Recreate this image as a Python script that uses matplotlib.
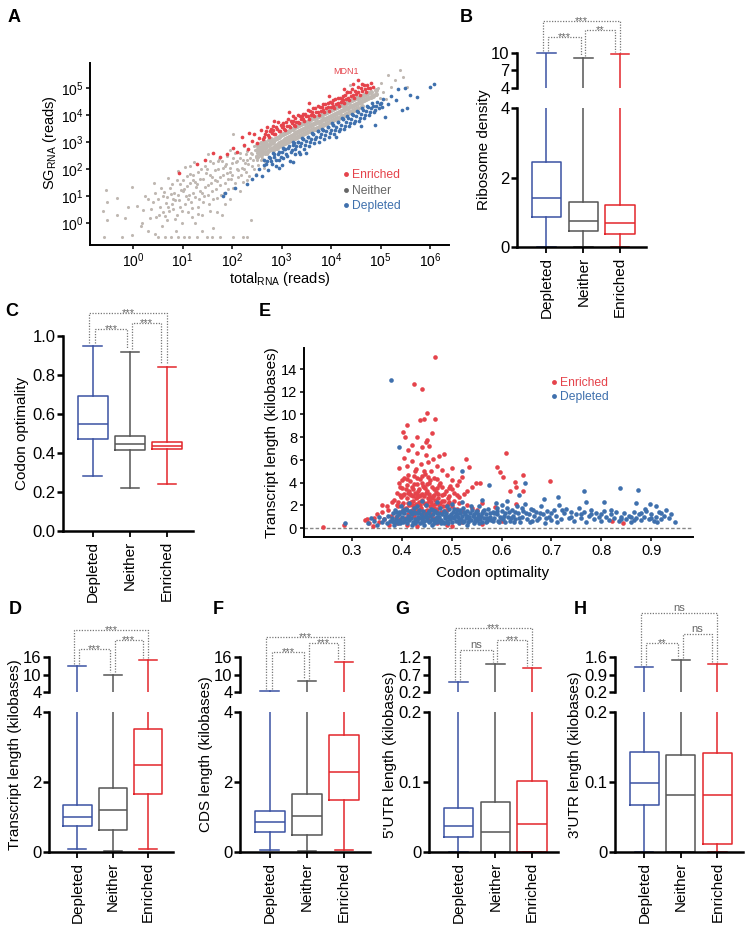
import matplotlib
matplotlib.use('Agg')
import matplotlib.pyplot as plt
import matplotlib.transforms as mtransforms
from matplotlib.lines import Line2D
from matplotlib.ticker import NullLocator

plt.rcParams['font.family'] = ['Liberation Sans', 'DejaVu Sans']
plt.rcParams['mathtext.fontset'] = 'custom'
plt.rcParams['mathtext.rm'] = 'Liberation Sans'
plt.rcParams['mathtext.it'] = 'Liberation Sans:italic'
plt.rcParams['mathtext.bf'] = 'Liberation Sans:bold'

# ======================= DATA =======================
groups = ['Depleted', 'Neither', 'Enriched']
# box stats per group: (whisker low, Q1, median, Q3, whisker high)
ribosome_density = [(0.0, 0.85, 1.40, 2.45, 10.0), (0.0, 0.45, 0.75, 1.30, 9.2), (0.0, 0.37, 0.70, 1.20, 9.8)]
codon_optimality = [(0.28, 0.47, 0.55, 0.69, 0.95), (0.22, 0.413, 0.445, 0.487, 0.92), (0.24, 0.42, 0.435, 0.455, 0.84)]
transcript_kb = [(0.10, 0.75, 1.00, 1.35, 12.8), (0.03, 0.62, 1.20, 1.83, 10.0), (0.08, 1.65, 2.48, 3.52, 14.9)]
cds_kb = [(0.07, 0.58, 0.85, 1.17, 4.2), (0.03, 0.48, 1.02, 1.65, 7.7), (0.07, 1.48, 2.28, 3.33, 14.3)]
utr5_kb = [(0.0, 0.021, 0.037, 0.063, 0.49), (0.0, 0.0, 0.029, 0.072, 1.0), (0.0, 0.0, 0.040, 0.102, 0.88)]
utr3_kb = [(0.0, 0.067, 0.099, 0.143, 1.19), (0.0, 0.0, 0.081, 0.138, 1.48), (0.0, 0.012, 0.082, 0.141, 1.31)]
# significance: (Depleted-Enriched, Depleted-Neither, Neither-Enriched)
sig_B = ['***', '***', '**']
sig_C = ['***', '***', '***']
sig_D = ['***', '***', '***']
sig_F = ['***', '***', '***']
sig_G = ['***', 'ns', '***']
sig_H = ['ns', '**', 'ns']

# Panel A: (log10 total reads, log10 SG reads)
neither_sparse = [
(-0.55,1.22),(-0.53,0.78),(-0.60,0.45),(-0.53,0.10),(-0.33,0.93),(-0.33,0.30),(-0.22,-0.52),(-0.02,1.33),(-0.02,-0.45),
(-0.16,0.18),(-0.58,-0.52),(0.08,0.62),(0.18,0.02),(0.24,1.02),(0.31,-0.28),(0.36,0.52),(0.42,1.48),(0.46,0.21),(0.51,0.88),
(0.50,-0.52),(0.56,1.31),(0.61,0.42),(0.59,-0.12),(0.66,0.76),(0.71,1.68),(0.69,0.12),(0.76,1.08),(0.77,-0.52),(0.81,0.52),
(0.79,1.46),(0.86,-0.31),(0.84,0.86),(0.91,1.92),(0.89,0.31),(0.96,1.22),(0.94,0.61),(1.01,1.58),(0.99,0.02),(1.02,-0.52),
(1.06,1.01),(1.04,2.08),(1.11,0.42),(1.09,1.36),(1.12,-0.52),(1.16,0.79),(1.14,1.82),(1.21,1.12),(1.19,0.22),(1.26,1.52),
(1.24,2.28),(1.31,0.61),(1.29,-0.52),(1.32,1.91),(1.36,1.18),(1.34,0.88),(1.41,1.62),(1.39,0.31),(1.46,2.12),(1.44,1.02),
(1.51,1.41),(1.49,-0.52),(1.56,1.79),(1.54,0.71),(1.61,2.21),(1.59,1.18),(1.62,-0.18),(1.66,1.61),(1.71,2.02),(1.69,0.92),
(1.76,1.42),(1.74,2.38),(1.81,1.79),(1.79,0.31),(1.86,2.11),(1.84,1.12),(1.91,1.62),(1.89,2.48),(1.96,1.88),(2.01,1.31),
(1.99,2.22),(2.02,-0.52),(2.06,2.58),(2.11,1.72),(2.09,2.02),(2.16,2.41),(2.21,1.52),(2.22,-0.52),(2.26,2.21),(2.31,2.68),
(2.29,1.91),(2.36,2.42),(2.41,2.12),(2.39,0.12),(2.46,2.72),(2.51,2.32),(2.49,1.82),(2.56,2.62),(2.02,3.30),(1.52,2.55),
(0.30,0.90),(0.15,-0.10),(1.95,0.90),(2.15,1.20),(2.30,1.60),(1.70,0.40),(1.25,0.00),(0.60,1.00),(0.90,-0.52),(1.40,-0.30),
(2.45,2.00),(2.60,2.40),(2.65,2.05),
(0.35,0.2),(0.4,0.8),(0.45,1.1),(0.52,0.3),(0.55,0.6),(0.62,1.15),(0.65,0.25),(0.68,0.95),(0.72,0.45),(0.74,1.3),(0.78,0.7),
(0.82,1.1),(0.85,0.15),(0.88,1.6),(0.92,0.85),(0.95,1.45),(0.98,0.45),(1.02,1.25),(1.05,0.7),(1.08,1.75),(1.12,1.05),
(1.15,1.5),(1.18,0.55),(1.22,1.8),(1.25,0.95),(1.28,1.35),(1.32,0.35),(1.35,1.65),(1.38,2.0),(1.42,0.8),(1.45,1.35),
(1.48,1.85),(1.52,1.05),(1.55,2.3),(1.58,1.5),(1.62,0.9),(1.65,1.95),(1.68,1.25),(1.72,2.3),(1.75,1.7),(1.78,1.05),
(1.82,2.05),(1.85,1.5),(1.88,2.2),(1.92,1.25),(1.95,2.05),(1.98,1.65),(2.02,2.4),(2.05,1.5),(2.08,2.25),(2.12,1.95),
(2.15,2.6),(2.18,1.8),(2.22,2.35),(2.25,2.0),(2.28,2.55),(2.32,2.2),(2.35,1.75),(2.38,2.6),(2.42,2.35),(2.44,2.85),
(2.48,2.5),(2.52,2.15),(2.55,2.8),(2.58,2.35),(2.62,2.95),(2.66,2.3),(2.7,2.55),(1.6,1.7),(1.5,2.0),(1.4,1.1),(1.3,1.45),
(1.2,1.6),(1.1,0.9),(1.0,1.2),(0.9,1.05),(0.8,0.9),(0.7,0.6),(1.7,1.55),(1.8,2.3),(1.9,1.85),(2.0,1.8),(2.1,2.3),
(2.2,2.05),(2.3,2.35),(2.4,2.55),(2.5,2.6),(2.6,2.7),(1.85,0.7),(1.55,0.45),(1.95,2.7),(2.25,2.85),(1.15,2.1),(0.45,-0.4),
(0.2,0.5),(-0.1,0.6),(1.6,-0.52),(1.75,-0.52),(0.65,-0.52),(2.3,-0.52),
(4.38,5.10),(5.39,5.67),(5.15,5.48),(5.29,5.30),(5.53,5.04),(4.95,5.00),(5.05,4.85),(5.20,5.05),(4.90,4.75),
(5.00,5.20),(5.45,5.40),(5.10,4.60),(4.98,4.65),
]
neither_core = [
(2.50,2.45),(2.50,2.70),(2.50,2.88),(2.54,2.60),(2.54,2.82),(2.58,2.52),(2.58,2.75),(2.58,2.95),
(2.63,2.62),(2.63,2.85),(2.63,2.98),(2.67,2.58),(2.67,2.80),(2.67,3.02),(2.71,2.65),(2.71,2.90),
(2.75,2.70),(2.75,2.88),(2.75,3.08),(2.79,2.74),(2.79,2.95),(2.79,3.12),(2.83,2.80),(2.83,3.02),(2.83,2.70),
(2.87,2.85),(2.87,3.10),(2.87,2.78),(2.91,2.90),(2.91,3.15),(2.91,2.80),(2.95,2.95),(2.95,3.18),(2.95,2.85),
(2.99,3.00),(2.99,3.25),(2.99,2.88),(3.03,3.05),(3.03,3.30),(3.03,2.92),(3.07,3.10),(3.07,3.35),(3.07,2.96),
(3.11,3.15),(3.11,3.38),(3.11,3.00),(3.15,3.20),(3.15,3.42),(3.15,3.05),(3.19,3.22),(3.19,3.48),(3.19,3.08),
(3.23,3.28),(3.23,3.50),(3.23,3.10),(3.27,3.32),(3.27,3.55),(3.27,3.15),(3.31,3.36),(3.31,3.58),(3.31,3.18),
(3.35,3.40),(3.35,3.62),(3.35,3.22),(3.39,3.45),(3.39,3.66),(3.39,3.25),(3.43,3.48),(3.43,3.70),(3.43,3.30),
(3.47,3.52),(3.47,3.72),(3.47,3.33),(3.51,3.55),(3.51,3.76),(3.51,3.36),(3.55,3.58),(3.55,3.80),(3.55,3.40),
(3.59,3.62),(3.59,3.84),(3.59,3.44),(3.63,3.66),(3.63,3.88),(3.63,3.47),(3.67,3.70),(3.67,3.90),(3.67,3.50),
(3.71,3.73),(3.71,3.94),(3.71,3.53),(3.75,3.76),(3.75,3.98),(3.75,3.57),(3.79,3.80),(3.79,4.02),(3.79,3.60),
(3.83,3.84),(3.83,4.05),(3.83,3.64),(3.87,3.87),(3.87,4.08),(3.87,3.67),(3.91,3.90),(3.91,4.12),(3.91,3.70),
(3.95,3.94),(3.95,4.16),(3.95,3.74),(3.99,3.97),(3.99,4.19),(3.99,3.77),(4.03,4.00),(4.03,4.22),(4.03,3.81),
(4.07,4.04),(4.07,4.26),(4.07,3.84),(4.11,4.07),(4.11,4.29),(4.11,3.88),(4.15,4.11),(4.15,4.32),(4.15,3.91),
(4.19,4.14),(4.19,4.36),(4.19,3.95),(4.23,4.18),(4.23,4.39),(4.23,3.98),(4.27,4.21),(4.27,4.42),(4.27,4.02),
(4.31,4.25),(4.31,4.46),(4.31,4.05),(4.35,4.28),(4.35,4.49),(4.35,4.09),(4.39,4.32),(4.39,4.52),(4.39,4.12),
(4.43,4.35),(4.43,4.56),(4.43,4.16),(4.47,4.39),(4.47,4.59),(4.47,4.20),(4.51,4.42),(4.51,4.62),(4.51,4.24),
(4.55,4.46),(4.55,4.65),(4.55,4.27),(4.59,4.49),(4.59,4.68),(4.63,4.53),(4.63,4.72),(4.63,4.35),
(4.67,4.56),(4.67,4.75),(4.71,4.60),(4.71,4.79),(4.75,4.63),(4.75,4.82),(4.80,4.68),(4.80,4.85),(4.85,4.72),
(4.90,4.77),(4.90,4.92),
]
enriched_pts = [
(0.92,1.85),(1.30,2.20),(1.45,2.35),(1.75,2.45),(1.62,2.60),(1.90,2.55),(2.02,2.80),(2.10,2.65),(2.20,3.20),(2.25,2.90),
(2.32,2.75),(2.40,3.05),(2.45,3.30),(2.50,2.95),(2.55,3.15),(2.58,3.45),(2.62,3.10),(2.66,3.30),(2.70,3.55),(2.72,3.25),
(2.76,3.40),(2.80,3.35),(2.83,3.60),(2.86,3.30),(2.90,3.50),(2.93,3.75),(2.96,3.40),(3.00,3.55),(3.03,3.70),(3.06,3.45),
(3.10,3.60),(3.13,3.85),(3.16,3.55),(3.20,3.70),(3.23,3.95),(3.26,3.60),(3.30,3.75),(3.33,4.00),(3.36,3.70),(3.40,3.85),
(3.43,4.05),(3.46,3.80),(3.50,3.95),(3.53,4.20),(3.56,3.85),(3.60,4.00),(3.63,4.25),(3.66,3.95),(3.70,4.10),(3.73,4.35),
(3.76,4.00),(3.80,4.15),(3.83,4.40),(3.86,4.10),(3.90,4.25),(3.93,4.45),(3.96,4.15),(4.00,4.30),(4.03,4.55),(4.06,4.25),
(4.10,4.40),(4.13,4.65),(4.16,4.35),(4.20,4.50),(4.23,4.70),(4.26,4.45),(4.30,4.60),(4.33,4.85),(4.36,4.55),(4.40,4.70),
(4.43,4.95),(4.46,4.65),(4.50,4.80),(4.55,5.05),(4.58,4.75),(4.62,4.90),(4.66,5.10),(4.70,4.85),(4.75,5.00),(4.80,5.20),
(4.32,4.85),(4.55,5.30),(4.79,5.00),(4.62,5.15),(4.85,5.05),(2.35,3.35),(2.85,3.80),(3.15,4.10),(3.55,4.45),(3.95,4.70),
(4.25,4.95),(4.45,5.15),
(2.65,3.2),(2.68,3.4),(2.74,3.2),(2.78,3.5),(2.84,3.3),(2.88,3.55),(2.82,3.45),(2.94,3.4),(2.98,3.65),(3.04,3.5),
(3.08,3.75),(3.02,3.6),(3.14,3.6),(3.18,3.8),(3.24,3.65),(3.28,3.9),(3.22,3.8),(3.34,3.75),(3.38,3.95),(3.44,3.85),
(3.48,4.05),(3.42,3.95),(3.54,3.95),(3.58,4.15),(3.64,4.0),(3.68,4.25),(3.62,4.1),(3.74,4.1),(3.78,4.3),(3.84,4.2),
(3.88,4.4),(3.82,4.3),(3.94,4.3),(3.98,4.5),(4.04,4.35),(4.08,4.6),(4.02,4.45),(4.14,4.45),(4.18,4.65),(4.24,4.55),
(4.28,4.75),(4.22,4.6),(4.34,4.65),(4.38,4.85),(4.44,4.75),(4.48,4.9),(4.54,4.85),(4.6,5.0),(4.68,4.95),(4.72,5.1),
]
depleted_pts = [
(1.82,1.00),(1.85,1.12),(2.05,1.30),(2.30,1.45),(2.40,1.62),(2.48,1.80),(2.55,2.00),(2.60,1.75),(2.65,2.15),(2.70,2.30),
(2.72,1.95),(2.76,2.40),(2.80,2.20),(2.84,2.45),(2.88,2.10),(2.92,2.55),(2.95,2.35),(3.00,2.65),(3.03,2.40),(3.06,2.75),
(3.10,2.50),(3.13,2.80),(3.16,2.30),(3.20,2.70),(3.23,2.90),(3.26,2.55),(3.30,2.85),(3.33,3.00),(3.36,2.65),(3.40,2.95),
(3.43,3.10),(3.46,2.75),(3.50,3.05),(3.53,3.20),(3.56,2.85),(3.60,3.10),(3.63,3.30),(3.66,2.95),(3.70,3.20),(3.73,3.40),
(3.76,3.00),(3.80,3.30),(3.83,3.45),(3.86,3.10),(3.90,3.40),(3.93,3.55),(3.96,3.20),(4.00,3.45),(4.03,3.65),(4.06,3.30),
(4.10,3.55),(4.13,3.75),(4.16,3.40),(4.20,3.65),(4.23,3.85),(4.26,3.50),(4.30,3.75),(4.33,3.95),(4.36,3.60),(4.40,3.85),
(4.43,4.05),(4.46,3.70),(4.50,3.95),(4.53,4.15),(4.56,3.80),(4.60,4.05),(4.63,4.25),(4.66,3.90),(4.70,4.15),(4.73,4.35),
(4.76,4.00),(4.80,4.25),(4.83,4.45),(4.86,4.10),(4.90,4.35),(4.93,4.50),(4.97,4.25),(5.00,4.45),(5.05,4.60),(5.09,3.93),
(4.89,3.63),(5.15,4.40),(5.20,4.70),(5.30,4.55),(5.43,4.19),(5.53,4.26),(5.60,4.75),(5.73,4.67),(5.35,4.95),(5.50,5.00),
(6.00,5.05),(6.08,5.15),(3.23,2.26),(3.00,2.15),(2.95,2.05),(3.50,2.60),(4.10,3.20),(4.60,3.60),(3.38,2.55),
(2.64,2.35),(2.68,2.2),(2.74,2.45),(2.78,2.3),(2.84,2.55),(2.88,2.35),(2.82,2.6),(2.94,2.65),(2.98,2.45),(3.04,2.75),
(3.08,2.55),(3.02,2.8),(3.14,2.85),(3.18,2.65),(3.24,2.95),(3.28,2.75),(3.22,3.0),(3.34,3.0),(3.38,2.85),(3.44,3.1),
(3.48,2.9),(3.42,3.15),(3.54,3.2),(3.58,3.0),(3.64,3.3),(3.68,3.1),(3.62,3.35),(3.74,3.4),(3.78,3.2),(3.84,3.45),
(3.88,3.25),(3.82,3.5),(3.94,3.55),(3.98,3.35),(4.04,3.65),(4.08,3.45),(4.02,3.7),(4.14,3.75),(4.18,3.5),(4.24,3.85),
(4.28,3.6),(4.22,3.9),(4.34,3.9),(4.38,3.7),(4.44,4.0),(4.48,3.8),(4.54,4.1),(4.58,3.9),(4.64,4.2),(4.68,4.0),
(4.74,4.3),(4.78,4.1),(4.84,4.35),(4.88,4.2),(4.98,4.4),(5.02,4.3),
]

# Panel E: (codon optimality, transcript length kb)
enriched_len = [
(0.467,15.08),(0.425,12.65),(0.441,12.27),(0.451,10.1),(0.437,9.5),(0.445,9.57),(0.467,9.62),(0.411,9.07),(0.402,8.48),
(0.407,7.98),(0.431,8.04),(0.451,7.75),(0.449,7.6),(0.46,8.34),(0.413,6.87),(0.485,6.5),(0.529,6.05),(0.534,5.4),(0.59,5.4),
(0.596,4.96),(0.549,4.0),(0.557,4.0),(0.608,6.63),(0.602,4.52),(0.642,4.64),(0.627,4.02),(0.628,3.58),(0.643,3.28),
(0.616,3.26),(0.697,4.14),(0.586,1.88),(0.629,2.1),(0.821,0.62),(0.843,0.47),(0.242,0.12),(0.283,0.26),(0.326,0.7),
(0.42,7.3),(0.44,7.1),(0.455,7.2),(0.43,6.6),(0.448,6.4),(0.405,6.2),(0.42,5.9),(0.462,6.1),(0.475,6.3),(0.438,5.6),
(0.452,5.8),(0.395,5.3),(0.41,5.5),(0.47,5.5),(0.48,5.1),(0.428,5.2),(0.445,5.0),(0.5,5.3),(0.49,4.7),(0.52,4.5),
(0.515,4.1),(0.54,3.6),(0.53,3.3),(0.51,3.8),(0.5,4.2),(0.495,3.5),
(0.385,2.5),(0.39,3.1),(0.392,1.9),(0.395,4.0),(0.398,2.7),(0.40,3.5),(0.40,1.5),(0.402,2.2),(0.405,4.4),(0.405,3.0),
(0.408,1.8),(0.41,2.6),(0.41,3.8),(0.412,1.2),(0.414,3.3),(0.415,2.0),(0.416,4.1),(0.418,2.9),(0.42,1.6),(0.42,3.6),
(0.422,2.4),(0.424,4.6),(0.425,1.1),(0.426,3.1),(0.428,2.1),(0.43,3.9),(0.43,2.7),(0.432,1.4),(0.434,3.4),(0.435,2.3),
(0.436,4.3),(0.438,1.8),(0.44,3.0),(0.44,2.5),(0.442,3.7),(0.444,1.3),(0.445,2.8),(0.446,4.8),(0.448,2.0),(0.45,3.3),
(0.45,1.6),(0.452,2.6),(0.454,4.0),(0.455,3.0),(0.456,1.9),(0.458,2.3),(0.46,3.6),(0.46,1.2),(0.462,2.8),(0.464,4.4),
(0.466,2.1),(0.468,3.2),(0.47,1.7),(0.472,2.6),(0.474,3.8),(0.476,2.2),(0.478,1.4),(0.48,2.9),(0.482,1.9),(0.485,2.4),
(0.488,3.3),(0.49,1.6),(0.492,2.1),(0.495,2.8),(0.5,1.9),(0.505,2.4),(0.51,1.7),(0.515,2.2),(0.52,1.5),(0.53,2.0),
(0.54,1.8),(0.55,1.6),(0.56,2.2),(0.388,1.0),(0.396,0.8),(0.403,2.9),(0.407,0.9),(0.417,1.3),(0.423,3.4),(0.433,0.9),
(0.437,2.0),(0.443,1.0),(0.447,3.5),(0.453,0.8),(0.457,4.2),(0.463,0.9),(0.467,2.5),(0.473,1.0),(0.48,3.6),(0.397,3.6),
(0.413,4.7),(0.427,5.0),(0.44,4.6),(0.458,5.0),(0.47,4.3),(0.4,2.0),(0.418,2.3),(0.428,1.7),(0.438,2.9),(0.448,1.5),
(0.455,2.5),(0.465,1.8),(0.43,3.0),(0.422,2.8),(0.412,3.1),(0.45,2.2),(0.46,2.6),
(0.335,0.4),(0.345,0.9),(0.35,1.2),(0.355,0.5),(0.36,1.4),(0.365,0.8),(0.37,1.9),(0.375,0.3),(0.378,1.1),(0.38,2.3),
(0.383,0.6),(0.39,0.4),(0.36,2.0),(0.372,1.6),(0.342,0.2),(0.33,0.8),
(0.41,0.3),(0.43,0.2),(0.47,0.4),(0.49,0.3),(0.52,0.5),(0.56,0.35),(0.6,0.6),(0.5,0.2),
(0.392,2.3),(0.396,2.9),(0.40,4.2),(0.404,1.7),(0.408,3.4),(0.412,2.2),(0.416,3.0),(0.42,2.0),(0.424,3.9),(0.428,2.6),
(0.432,3.3),(0.436,1.6),(0.44,4.0),(0.444,2.2),(0.448,3.1),(0.452,4.5),(0.456,2.7),(0.46,2.0),(0.464,3.4),(0.468,1.5),
(0.472,3.0),(0.476,4.0),(0.48,2.4),(0.484,3.0),(0.488,1.9),(0.492,2.6),(0.496,3.7),(0.39,2.0),(0.43,4.4),(0.45,3.9),
(0.47,3.5),(0.41,4.3),(0.425,1.9),(0.435,2.8),(0.445,3.6),(0.455,1.4),(0.465,2.9),(0.475,2.0),(0.485,1.5),(0.495,2.3),
(0.505,3.1),(0.515,2.7),(0.525,3.0),(0.51,2.9),(0.5,3.4),
]
depleted_len = [
(0.378,13.0),(0.394,7.16),(0.52,5.0),(0.575,3.79),(0.646,3.93),(0.635,2.9),(0.766,3.29),(0.838,3.52),(0.874,3.31),
(0.713,2.7),(0.686,2.58),(0.769,2.32),(0.805,2.32),(0.87,2.17),(0.898,2.08),(0.91,1.94),(0.947,0.56),(0.285,0.47),
(0.332,0.4),(0.338,0.9),(0.345,0.6),(0.35,0.3),(0.355,1.0),(0.36,0.5),(0.365,0.8),(0.37,0.4),(0.373,1.1),(0.377,0.6),
(0.38,0.9),(0.382,1.3),(0.384,0.5),(0.386,1.6),(0.388,0.8),(0.39,1.1),(0.392,0.4),(0.394,1.4),(0.396,0.7),(0.398,1.9),
(0.40,1.0),(0.402,0.5),(0.404,1.3),(0.406,0.8),(0.408,1.7),(0.41,0.4),(0.412,1.1),(0.414,0.7),(0.416,1.5),(0.418,0.9),
(0.42,1.2),(0.422,0.5),(0.424,1.8),(0.426,0.8),(0.428,1.3),(0.43,0.6),(0.432,1.0),(0.434,1.6),(0.436,0.4),(0.438,1.2),
(0.44,0.8),(0.442,1.5),(0.444,0.6),(0.446,1.0),(0.448,2.0),(0.45,0.7),(0.452,1.3),(0.454,0.5),(0.456,1.1),(0.458,1.7),
(0.46,0.8),(0.462,1.2),(0.464,0.4),(0.466,1.5),(0.468,0.9),(0.47,1.3),(0.472,0.6),(0.474,1.0),(0.476,1.8),(0.478,0.7),
(0.48,1.2),(0.482,0.5),(0.484,1.5),(0.486,0.9),(0.488,1.3),(0.49,0.6),(0.492,1.0),(0.494,1.7),(0.496,0.8),(0.498,1.2),
(0.5,0.5),(0.502,1.4),(0.504,0.9),(0.506,1.1),(0.508,0.6),(0.51,1.6),(0.512,1.0),(0.514,0.4),(0.516,1.3),(0.518,0.8),
(0.52,1.1),(0.522,1.8),(0.524,0.6),(0.526,1.2),(0.528,0.9),(0.53,1.5),(0.532,0.5),(0.534,1.0),(0.536,1.3),(0.538,0.7),
(0.54,1.6),(0.542,1.1),(0.544,0.4),(0.546,0.9),(0.548,1.4),(0.55,0.7),(0.552,1.2),(0.554,1.9),(0.556,0.8),(0.558,1.1),
(0.56,0.5),(0.562,1.5),(0.565,0.9),(0.568,1.2),(0.57,0.6),(0.573,1.7),(0.576,1.0),(0.579,0.7),(0.582,1.4),(0.585,0.9),
(0.588,2.2),(0.59,1.2),(0.593,0.6),(0.596,1.0),(0.6,1.5),(0.603,0.8),(0.606,1.3),(0.61,2.4),(0.613,1.0),(0.616,0.6),
(0.62,1.6),(0.623,1.1),(0.626,0.8),(0.63,1.9),(0.633,1.3),(0.636,0.5),(0.64,1.0),(0.643,1.5),(0.646,2.1),(0.65,0.8),
(0.654,1.2),(0.658,1.7),(0.662,0.6),(0.666,1.1),(0.67,1.4),(0.675,0.9),(0.68,1.9),(0.684,1.2),(0.688,0.4),(0.692,1.5),
(0.696,1.0),(0.70,0.7),(0.705,1.6),(0.71,1.1),(0.715,2.0),(0.72,0.8),(0.725,1.3),(0.73,1.7),(0.735,0.9),(0.74,1.4),
(0.745,0.6),(0.75,1.2),(0.755,1.8),(0.76,0.9),(0.765,1.4),(0.77,0.5),(0.775,1.1),(0.78,1.6),(0.785,0.8),(0.79,1.3),
(0.795,1.0),(0.80,0.6),(0.805,1.5),(0.81,1.0),(0.815,0.7),(0.82,1.2),(0.825,0.9),(0.83,1.4),(0.835,0.6),(0.84,1.0),
(0.845,1.3),(0.85,0.8),(0.855,1.1),(0.86,0.5),(0.865,1.4),(0.87,0.9),(0.875,1.2),(0.88,0.7),(0.885,1.0),(0.89,1.5),
(0.895,0.8),(0.90,1.2),(0.905,0.6),(0.91,1.0),(0.915,1.4),(0.92,0.8),(0.925,1.1),(0.93,1.6),(0.935,0.9),(0.94,1.2),
(0.52,2.3),(0.56,2.5),(0.6,2.0),(0.5,2.1),(0.47,2.3),(0.44,2.4),(0.415,2.2),
(0.385,0.3),(0.395,1.2),(0.405,0.6),(0.415,1.0),(0.425,1.4),(0.435,0.9),(0.445,0.3),(0.455,1.5),(0.465,0.7),(0.475,1.3),
(0.485,0.4),(0.495,1.1),(0.505,1.7),(0.515,0.7),(0.525,1.4),(0.535,0.8),(0.545,1.2),(0.555,0.4),(0.565,1.6),(0.575,0.8),
(0.585,1.3),(0.595,0.5),(0.605,1.1),(0.615,1.4),(0.625,0.5),(0.39,0.6),(0.41,1.6),(0.43,1.9),(0.45,1.0),(0.47,0.5),
(0.49,1.9),(0.51,1.2),(0.53,0.3),(0.55,1.5),(0.57,0.9),(0.59,1.8),(0.4,1.4),(0.42,0.3),(0.44,1.1),(0.46,0.3),
(0.381,0.6),(0.389,1.4),(0.397,0.4),(0.403,1.6),(0.411,0.8),(0.419,1.4),(0.427,0.4),(0.433,1.3),(0.441,0.5),(0.449,1.2),
(0.457,0.6),(0.463,1.6),(0.471,1.0),(0.479,0.4),(0.487,1.1),(0.493,0.4),(0.501,1.0),(0.509,1.3),(0.517,1.6),(0.523,0.5),
(0.531,1.1),(0.539,1.9),(0.547,0.6),(0.553,1.0),(0.561,1.3),(0.569,0.5),(0.577,1.3),(0.583,0.6),(0.591,1.5),(0.599,0.9),
(0.607,0.5),(0.611,1.8),(0.619,0.9),(0.627,1.4),(0.634,0.9),(0.641,1.8),(0.648,1.3),(0.656,0.5),(0.664,1.6),(0.672,0.7),
(0.678,1.3),(0.69,0.9),(0.7,1.3),(0.712,0.5),(0.722,1.6),(0.74,1.0),(0.76,1.2),(0.78,1.2),(0.8,1.2),(0.82,1.6),
(0.84,0.8),(0.86,1.0),(0.88,1.3),(0.9,0.9),(0.92,1.3),(0.888,1.7),(0.912,0.5),(0.865,0.7),
]

# ======================= STYLE =======================
BOX_COLORS = ['#3b52a3', '#555555', '#e3262b']
PT_RED = '#e5434b'
PT_GREY = '#bfb8b2'
PT_BLUE = '#3f70ad'

W, H = 752, 930
fig = plt.figure(figsize=(W / 100, H / 100), dpi=100)


def add_ax(l, t, r, b):
    ax = fig.add_axes([l / W, 1 - b / H, (r - l) / W, (b - t) / H])
    ax.patch.set_alpha(0)
    return ax


def ftext(x, y, s, **kw):
    fig.text(x / W, 1 - y / H, s, **kw)


XLIM = (0.2, 3.7)


def draw_boxes(ax, stats, upper=False):
    bst = [dict(label=g, whislo=s[0], q1=s[1], med=s[2], q3=s[3], whishi=s[4], fliers=[])
           for g, s in zip(groups, stats)]
    art = ax.bxp(bst, positions=[1, 2, 3], widths=0.8, capwidths=0.5,
                 showfliers=False, manage_ticks=False)
    for i, c in enumerate(BOX_COLORS):
        for a in [art['boxes'][i], art['medians'][i], art['whiskers'][2 * i],
                  art['whiskers'][2 * i + 1], art['caps'][2 * i], art['caps'][2 * i + 1]]:
            a.set_color(c)
            a.set_linewidth(1.1)
        if upper:
            art['caps'][2 * i].set_visible(False)
            art['caps'][2 * i + 1].set_clip_on(False)
    ax.set_xlim(*XLIM)
    return art


def style_lower(ax, ylim, yticks, ylabels):
    ax.set_ylim(*ylim)
    ax.set_yticks(yticks)
    ax.set_yticklabels(ylabels)
    ax.set_xticks([1, 2, 3])
    ax.set_xticklabels(groups, rotation=90)
    for s in ('top', 'right'):
        ax.spines[s].set_visible(False)
    for s in ('left', 'bottom'):
        ax.spines[s].set_linewidth(1.8)
    ax.tick_params(axis='y', direction='out', length=4.5, width=1.8, labelsize=12, pad=0.8)
    ax.tick_params(axis='x', direction='out', length=4, width=1.3, labelsize=11, pad=3)


def style_upper(ax, ylim, yticks, ylabels):
    ax.set_ylim(*ylim)
    ax.set_yticks(yticks)
    ax.set_yticklabels(ylabels)
    ax.set_xticks([])
    for s in ('top', 'right', 'bottom'):
        ax.spines[s].set_visible(False)
    ax.spines['left'].set_linewidth(1.8)
    ax.tick_params(axis='y', direction='out', length=4.5, width=1.8, labelsize=12, pad=0.8)


def brackets(ax, stats, lo, hi, levels, labels, gap):
    tr = mtransforms.blended_transform_factory(ax.transData, ax.transAxes)
    pairs = [(0, 2, -0.1, 0.0), (0, 1, 0.05, -0.07), (1, 2, 0.05, -0.15)]
    for (i, j, di, dj), lev, lab in zip(pairs, levels, labels):
        x1 = i + 1 + di
        x2 = j + 1 + dj
        y1 = (stats[i][4] - lo) / (hi - lo) + gap
        y2 = (stats[j][4] - lo) / (hi - lo) + gap
        ax.plot([x1, x1, x2, x2], [y1, lev, lev, y2], transform=tr, color='#777777',
                lw=0.9, ls=(0, (1, 1.2)), clip_on=False)
        dy = -2.5 if '*' in lab else 1.5
        ttr = mtransforms.offset_copy(tr, fig=fig, y=dy, units='points')
        ax.text((x1 + x2) / 2, lev, lab, transform=ttr, ha='center', va='baseline',
                fontsize=8, color='#666666')


def broken_panel(l, r, stats, lo_lim, lo_ticks, lo_labels, up_lim, up_ticks, up_labels,
                 levels, sig, ylabel, ylab_x, t_up=657, b_up=692, t_lo=712, b_lo=852):
    ax_lo = add_ax(l, t_lo, r, b_lo)
    draw_boxes(ax_lo, stats)
    style_lower(ax_lo, lo_lim, lo_ticks, lo_labels)
    ax_up = add_ax(l, t_up, r, b_up)
    draw_boxes(ax_up, stats, upper=True)
    style_upper(ax_up, up_lim, up_ticks, up_labels)
    brackets(ax_up, stats, up_lim[0], up_lim[1], levels, sig, 0.06)
    ftext(ylab_x, (t_up + b_lo) / 2, ylabel, rotation=90, ha='center', va='center', fontsize=11)
    return ax_lo, ax_up


# ======================= PANEL A =======================
axA = add_ax(90, 63, 449, 245)
axA.set_xscale('log')
axA.set_yscale('log')
axA.scatter([10 ** p[0] for p in neither_sparse], [10 ** p[1] for p in neither_sparse], s=5, c=PT_GREY, lw=0)
axA.scatter([10 ** p[0] for p in neither_core], [10 ** p[1] for p in neither_core], s=13, c=PT_GREY, lw=0)
axA.scatter([10 ** p[0] for p in enriched_pts], [10 ** p[1] for p in enriched_pts], s=7, c=PT_RED, lw=0)
axA.scatter([10 ** p[0] for p in depleted_pts], [10 ** p[1] for p in depleted_pts], s=7, c=PT_BLUE, lw=0)
axA.set_xlim(10 ** -0.87, 10 ** 6.38)
axA.set_ylim(10 ** -0.81, 10 ** 5.93)
axA.set_xticks([10 ** k for k in range(7)])
axA.set_yticks([10 ** k for k in range(6)])
axA.xaxis.set_minor_locator(NullLocator())
axA.yaxis.set_minor_locator(NullLocator())
for s in ('top', 'right'):
    axA.spines[s].set_visible(False)
for s in ('left', 'bottom'):
    axA.spines[s].set_linewidth(1.4)
axA.tick_params(direction='out', length=3, width=1.1, labelsize=10, pad=1.5)
axA.text(10 ** 4.3, 10 ** 5.63, 'MDN1', color=PT_RED, fontsize=6.5, ha='center', va='center')
hA = [Line2D([], [], ls='none', marker='o', ms=3.5, mfc=c, mec='none') for c in (PT_RED, '#666666', PT_BLUE)]
legA = axA.legend(hA, ['Enriched', 'Neither', 'Depleted'], loc='upper left', bbox_to_anchor=(0.705, 0.415),
                  frameon=False, handlelength=0.5, handletextpad=0.25, labelspacing=0.28,
                  borderpad=0, borderaxespad=0, fontsize=8.7)
for t, c in zip(legA.get_texts(), (PT_RED, '#666666', PT_BLUE)):
    t.set_color(c)
ftext(50, 143, r'SG$_{\mathregular{RNA}}$ (reads)', rotation=90, ha='center', va='center', fontsize=10.5)
ftext(280, 279, r'total$_{\mathregular{RNA}}$ (reads)', ha='center', va='center', fontsize=10.5)

# ======================= PANEL B =======================
broken_panel(517, 646, ribosome_density, (0, 4), [0, 2, 4], ['0', '2', '4'],
             (4, 10), [4, 7, 10], ['4', '7', '10'], [1.914, 1.457, 1.657], sig_B,
             'Ribosome density', 484, t_up=53, b_up=88, t_lo=108, b_lo=247)

# ======================= PANEL C =======================
axC = add_ax(63, 336, 193, 531)
draw_boxes(axC, codon_optimality)
style_lower(axC, (0, 1.0), [0, 0.2, 0.4, 0.6, 0.8, 1.0], ['0.0', '0.2', '0.4', '0.6', '0.8', '1.0'])
brackets(axC, codon_optimality, 0, 1.0, [1.118, 1.036, 1.067], sig_C, 0.015)
ftext(22, 433, 'Codon optimality', rotation=90, ha='center', va='center', fontsize=11)

# ======================= PANEL E =======================
axE = add_ax(304, 348, 693, 537)
axE.axhline(0, color='#888888', lw=1.0, ls=(0, (2.5, 1.5)), zorder=0.5)
axE.scatter([p[0] for p in enriched_len], [p[1] for p in enriched_len], s=11, c=PT_RED, lw=0)
axE.scatter([p[0] for p in depleted_len], [p[1] for p in depleted_len], s=11, c=PT_BLUE, lw=0)
axE.set_xlim(0.2036, 0.984)
axE.set_ylim(-0.79, 15.85)
axE.set_xticks([0.3, 0.4, 0.5, 0.6, 0.7, 0.8, 0.9])
axE.set_xticklabels(['0.3', '0.4', '0.5', '0.6', '0.7', '0.8', '0.9'])
axE.set_yticks(list(range(0, 15, 2)))
for s in ('top', 'right'):
    axE.spines[s].set_visible(False)
for s in ('left', 'bottom'):
    axE.spines[s].set_linewidth(1.4)
axE.tick_params(direction='out', length=3, width=1.1, labelsize=10.5, pad=2)
hE = [Line2D([], [], ls='none', marker='o', ms=3.5, mfc=c, mec='none') for c in (PT_RED, PT_BLUE)]
legE = axE.legend(hE, ['Enriched', 'Depleted'], loc='upper left', bbox_to_anchor=(0.635, 0.845),
                  frameon=False, handlelength=0.5, handletextpad=0.25, labelspacing=0.12,
                  borderpad=0, borderaxespad=0, fontsize=8.7)
for t, c in zip(legE.get_texts(), (PT_RED, PT_BLUE)):
    t.set_color(c)
ftext(272, 443, 'Transcript length (kilobases)', rotation=90, ha='center', va='center', fontsize=11)
ftext(493, 573, 'Codon optimality', ha='center', va='center', fontsize=11)

# ======================= PANELS D F G H =======================
broken_panel(49, 173, transcript_kb, (0, 4), [0, 2, 4], ['0', '2', '4'],
             (4, 16), [4, 10, 16], ['4', '10', '16'], [1.771, 1.229, 1.486], sig_D,
             'Transcript length (kilobases)', 15)
broken_panel(240, 370, cds_kb, (0, 4), [0, 2, 4], ['0', '2', '4'],
             (4, 16), [4, 10, 16], ['4', '10', '16'], [1.571, 1.143, 1.4], sig_F,
             'CDS length (kilobases)', 206)
broken_panel(429, 558, utr5_kb, (0, 0.2), [0, 0.1, 0.2], ['0', '0.1', '0.2'],
             (0.2, 1.2), [0.2, 0.7, 1.2], ['0.2', '0.7', '1.2'], [1.829, 1.2, 1.486], sig_G,
             "5'UTR length (kilobases)", 390)
broken_panel(615, 743, utr3_kb, (0, 0.2), [0, 0.1, 0.2], ['0', '0.1', '0.2'],
             (0.2, 1.6), [0.2, 0.9, 1.6], ['0.2', '0.9', '1.6'], [2.257, 1.4, 1.657], sig_H,
             "3'UTR length (kilobases)", 575)

# ======================= PANEL LETTERS =======================
for letter, x, y in [('A', 14, 18), ('B', 466, 17), ('C', 12, 312), ('E', 265, 312),
                     ('D', 15, 610), ('F', 218, 610), ('G', 402, 610), ('H', 580, 610)]:
    ftext(x, y, letter, ha='center', va='center', fontsize=13, fontweight='bold')

fig.savefig('out.png', dpi=100)
